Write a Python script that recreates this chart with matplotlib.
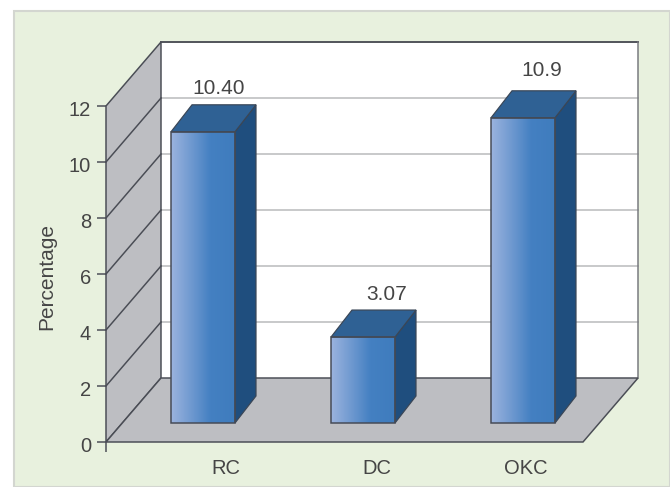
import matplotlib
matplotlib.use("Agg")
import matplotlib.pyplot as plt
import numpy as np
from matplotlib.colors import LinearSegmentedColormap
from matplotlib.patches import Polygon, Rectangle
from matplotlib.transforms import ScaledTranslation

categories = ["RC", "DC", "OKC"]
values = [10.40, 3.07, 10.9]
value_labels = ["10.40", "3.07", "10.9"]
y_ticks = [0, 2, 4, 6, 8, 10, 12]

W, H = 670, 487
PX = 0.72  # points per pixel at dpi 100
plt.rcParams["font.family"] = ["Liberation Sans", "DejaVu Sans"]
TEXT = "#454545"
EDGE = "#4a4d55"
WALL = "#bdbec2"

fig = plt.figure(figsize=(W / 100, H / 100), dpi=100, facecolor="white")
fig.patches.append(Rectangle((14 / W, 0), 1 - 14 / W, 1 - 11 / H, transform=fig.transFigure,
                             facecolor="#e8f1de", edgecolor="#d3d6d0", linewidth=1.5, zorder=-1))

# axes = front plane of the fake 3d box
ax = fig.add_axes([106 / W, (H - 442) / H, 477 / W, 336 / H])
ax.patch.set_visible(False)
x_unit = 160.0  # px per category
y_unit = 28.0  # px per y unit
ax.set_xlim(-97 / x_unit, 380 / x_unit)
ax.set_ylim(0, 12)
x0, x1 = ax.get_xlim()

# depth of the box and of the bars, in data units
box_dx, box_dy = 55 / x_unit, 64 / y_unit
bar_dx, bar_dy = 21 / x_unit, 27 / y_unit
bar_base = 19 / y_unit
bar_w = 64 / x_unit

# back wall
ax.add_patch(Polygon([(x0 + box_dx, box_dy), (x1 + box_dx, box_dy), (x1 + box_dx, 12 + box_dy - 0.0),
                      (x0 + box_dx, 12 + box_dy)], closed=True, facecolor="white", edgecolor="none",
                     clip_on=False, zorder=1))
for t in y_ticks[1:-1]:
    ax.plot([x0 + box_dx, x1 + box_dx], [t + box_dy, t + box_dy], color="#c9cacb", lw=2 * PX,
            clip_on=False, zorder=1.5)
ax.plot([x0 + box_dx, x1 + box_dx], [12 + box_dy, 12 + box_dy], color="#55585e", lw=2 * PX,
        clip_on=False, zorder=2)
ax.plot([x1 + box_dx, x1 + box_dx], [box_dy, 12 + box_dy], color="#77797d", lw=1.5 * PX,
        clip_on=False, zorder=2)

# left wall and floor
ax.add_patch(Polygon([(x0, 0), (x0 + box_dx, box_dy), (x0 + box_dx, 12 + box_dy), (x0, 12)], closed=True,
                     facecolor=WALL, edgecolor=EDGE, linewidth=1.5 * PX, clip_on=False, zorder=2))
ax.add_patch(Polygon([(x0, 0), (x1, 0), (x1 + box_dx, box_dy), (x0 + box_dx, box_dy)], closed=True,
                     facecolor=WALL, edgecolor=EDGE, linewidth=1.5 * PX, clip_on=False, zorder=2))
for t in y_ticks[1:-1]:
    ax.plot([x0, x0 + box_dx], [t, t + box_dy], color=EDGE, lw=1.5 * PX, clip_on=False, zorder=2.5)

# bars: gradient front, flat top and side
grad = LinearSegmentedColormap.from_list("bar", [(0, "#9bb3de"), (0.62, "#4480c2"), (1, "#3f7cbd")])
gradient = np.linspace(0, 1, 128).reshape(1, -1)
for i, v in enumerate(values):
    left, right = i - bar_w / 2, i + bar_w / 2
    bottom, top = bar_base, bar_base + v
    im = ax.imshow(gradient, cmap=grad, extent=(left, right, bottom, top), aspect="auto", zorder=4,
                   interpolation="bilinear")
    im.set_clip_on(False)
    ax.add_patch(Rectangle((left, bottom), bar_w, v, facecolor="none", edgecolor="#454a55",
                           linewidth=1.5 * PX, clip_on=False, zorder=5))
    ax.add_patch(Polygon([(right, bottom), (right + bar_dx, bottom + bar_dy), (right + bar_dx, top + bar_dy),
                          (right, top)], closed=True, facecolor="#1f4e7e", edgecolor="#3a4656",
                         linewidth=1.2 * PX, clip_on=False, zorder=4.5))
    ax.add_patch(Polygon([(left, top), (right, top), (right + bar_dx, top + bar_dy), (left + bar_dx, top + bar_dy)],
                         closed=True, facecolor="#2f6194", edgecolor="#3a4656", linewidth=1.2 * PX,
                         clip_on=False, zorder=4.5))

# value labels, pixel nudges from the bar front top centre
label_nudge = [(16, 43), (24, 43), (18.5, 47)]
for i, v in enumerate(values):
    ax.annotate(value_labels[i], (i, bar_base + v), xytext=(label_nudge[i][0] * PX, label_nudge[i][1] * PX),
                textcoords="offset points", ha="center", va="center", fontsize=15, color=TEXT, zorder=6)

# axis
for s in ax.spines.values():
    s.set_visible(False)
ax.set_yticks(y_ticks)
ax.tick_params(axis="y", length=9 * PX, width=1.5 * PX, color=EDGE, pad=6 * PX, labelsize=14.5, labelcolor=TEXT)
ax.set_xticks(range(len(categories)))
ax.set_xticklabels(categories)
ax.tick_params(axis="x", which="major", length=0, pad=17 * PX, labelsize=14.5, labelcolor=TEXT)
ax.set_xticks([x0], minor=True)
ax.tick_params(axis="x", which="minor", length=10 * PX, width=1.5 * PX, color=EDGE)
ax.set_ylabel("Percentage", fontsize=15, color=TEXT)
ax.yaxis.set_label_coords((56 - 106) / 477, (442 - 277) / 336)

# category labels sit left of / right of the bars in the original
tick_nudge = [23, 14, 2.5]
for lab, dx in zip(ax.get_xticklabels(), tick_nudge):
    lab.set_transform(lab.get_transform() + ScaledTranslation(dx / 100, 0, fig.dpi_scale_trans))
# y tick labels read a little below their ticks
for lab in ax.get_yticklabels():
    lab.set_transform(lab.get_transform() + ScaledTranslation(0, -3 / 100, fig.dpi_scale_trans))

fig.savefig("out.png", dpi=100)
